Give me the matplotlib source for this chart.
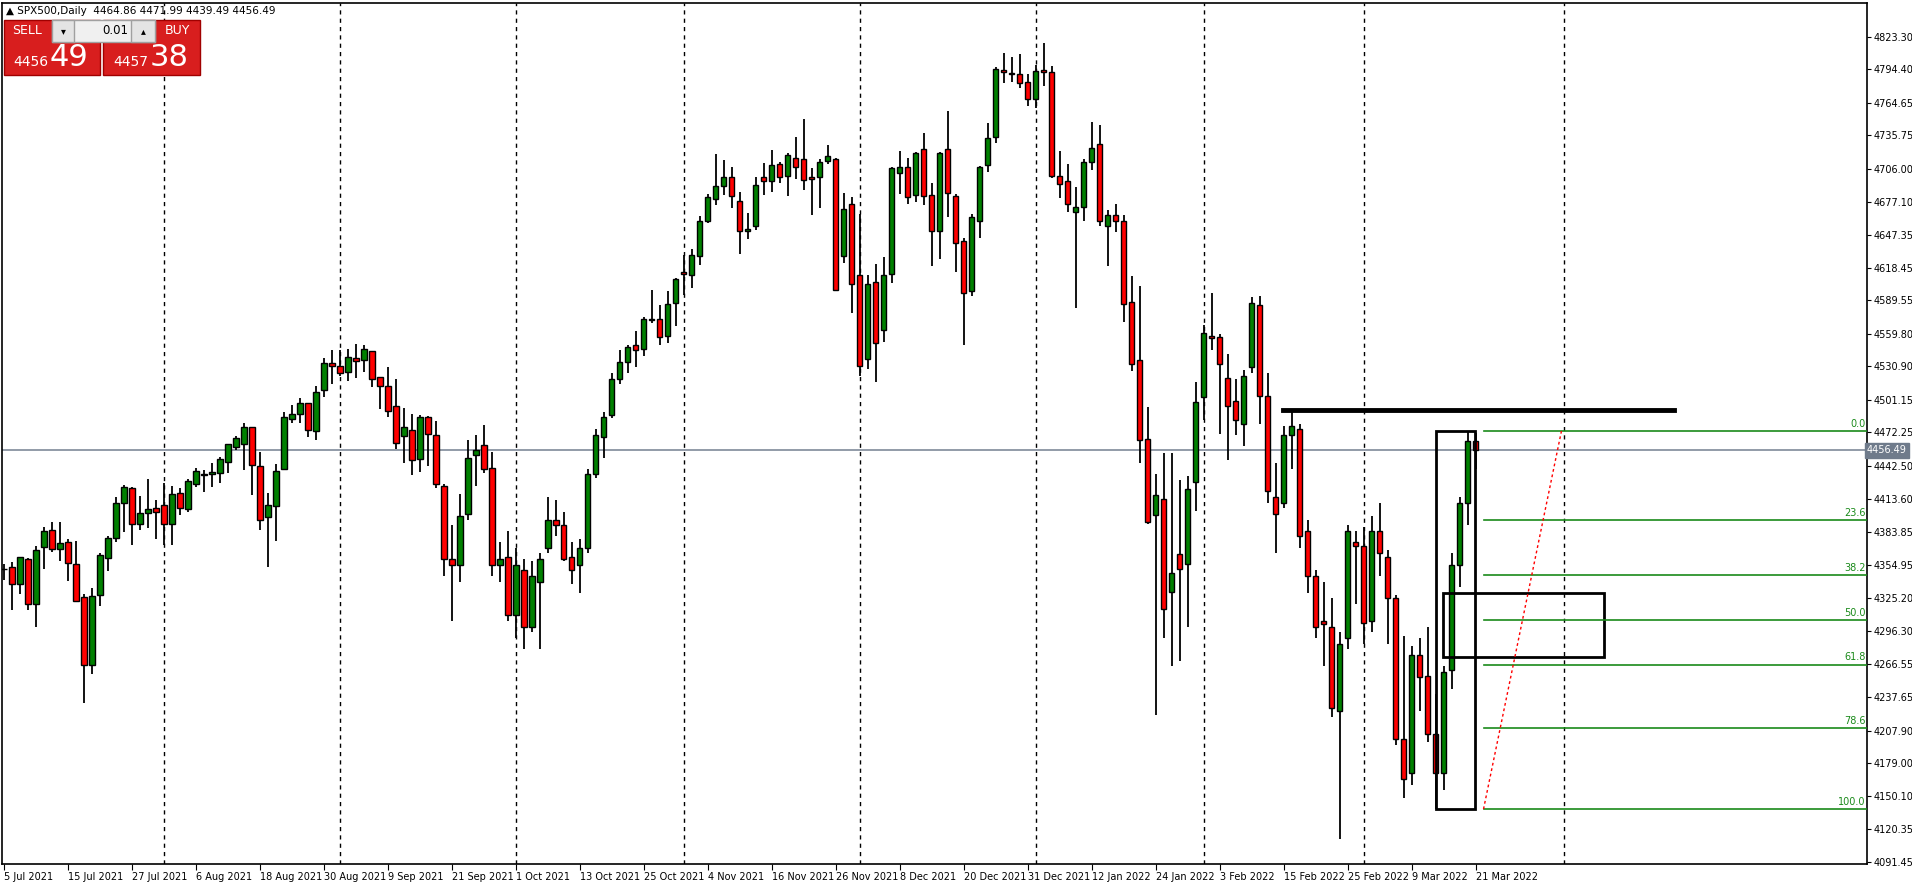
import matplotlib
matplotlib.use("Agg")
import matplotlib.pyplot as plt
from matplotlib.patches import Rectangle
import numpy as np

opens = [4351,4352.6,4337.5,4359.7,4319.7,4371,4385.4,4368.5,4374.7,4355.2,
 4326,4266,4327.7,4361,4379,4409.3,4422.6,4390.7,4400.5,4405,
 4407.6,4390.7,4419,4404,4427,4434.8,4435,4435.9,4445.7,4459,
 4461.7,4476.8,4442.2,4397,4406.8,4440.2,4484.5,4488.4,4498.1,4473.3,
 4509.7,4533.6,4531,4525.6,4538,4536.3,4544.2,4521.2,4513.2,4495.5,
 4468.8,4474.2,4448.4,4486,4469.7,4425,4360,4355,4400,4452,
 4461,4441,4355,4362,4310,4350,4300,4340,4370,4395,
 4390,4362,4355,4370,4435,4468,4488,4520,4535,4550,
 4546,4573,4573,4558,4587,4615,4612,4629,4660,4679,
 4691,4699,4678,4651,4655,4699,4695.5,4710.6,4699.7,4715.6,
 4715,4699,4699,4713,4715,4629,4675,4612.2,4537.4,4605.4,
 4562.8,4612.5,4702,4707.4,4683,4723.9,4682.5,4650.9,4723.9,4682,
 4642,4598,4660,4709.7,4734.6,4793.4,4791,4790,4783,4768,
 4794,4792,4700,4695,4668,4672,4712,4728,4655,4665,
 4660,4587.7,4536.3,4466.2,4398.8,4412.9,4330.5,4364.2,4355.3,4428,
 4503.4,4557.5,4556.7,4521,4500,4480,4530,4585,4505,4415,
 4410,4470,4475,4385,4345,4305,4300,4225,4290,4375,
 4372,4305,4385,4362,4325,4200,4170,4275,4256,4205,
 4170,4262,4355,4410,4464.86]
highs = [4356,4357,4362,4361,4372,4388.6,4392.8,4392.8,4378,4376,
 4329,4334,4365,4380,4415,4425.6,4423.5,4415.8,4430.6,4412,
 4427.7,4424.7,4422.6,4430.6,4440.7,4438.6,4444.8,4450.7,4462,4469,
 4481,4477,4454.7,4419,4444,4490.4,4496.6,4502.8,4498.1,4513.5,
 4538,4545.1,4545.1,4546,4550.5,4549.6,4544.2,4521.2,4530,4519.4,
 4494,4488.4,4487.5,4487,4482,4427,4390,4418,4466,4470,
 4479,4455,4375,4385,4370,4360,4358,4365,4415,4412,
 4402,4375,4378,4440,4475,4490,4525,4545,4550,4562,
 4575,4599,4585,4598,4609,4630,4635,4664,4684,4719,
 4714,4708,4686,4667,4699,4711.5,4722.5,4712,4720,4734,
 4750,4707,4714.5,4727.5,4716,4684.3,4681.3,4665.7,4611.6,4622,
 4628,4708,4721.6,4715.6,4721,4738.1,4693.5,4721,4757,4684,
 4645,4666,4709,4746.4,4796,4808.5,4805,4808,4790,4798,
 4818,4797,4722,4710,4690,4715,4748,4745,4670,4675,
 4665,4611,4602,4494.6,4435.4,4453.7,4453.7,4430,4434,4517,
 4568,4596,4560,4542,4520,4528,4592,4593,4525,4445,
 4478,4492,4480,4395,4350,4340,4325,4295,4390,4385,
 4388,4398,4410,4368,4328,4292,4283,4290,4300,4240,
 4265,4365,4415,4474,4471.99]
lows = [4341,4315,4329,4315,4300,4350.8,4365.9,4358.5,4340.7,4322,
 4232,4258,4318,4349.6,4375,4384,4372.7,4385.7,4387.8,4378,
 4372.7,4372.7,4399,4402,4423.5,4419.7,4423.5,4427.7,4435.9,4457,
 4438.6,4417,4385.8,4352.6,4376.3,4440,4481,4481,4468.5,4465.9,
 4504,4515.6,4522.4,4518.2,4520.9,4525.6,4512.3,4493.4,4486.3,4457.9,
 4445.5,4434.8,4437.5,4442.8,4422.7,4345,4305,4340,4395,4425,
 4436,4345,4340,4305,4290,4280,4295,4280,4365,4380,
 4358,4338,4330,4365,4432,4450,4485,4515,4525,4530,
 4540,4569,4550,4552,4567,4594,4600,4621,4658,4674,
 4683,4671,4631,4644,4652,4682.8,4686,4693.8,4682,4697,
 4687,4664.8,4671.3,4710,4597.4,4622.5,4577.9,4522.3,4528.2,4516.6,
 4552.7,4605,4683.4,4674.8,4676.3,4674,4620,4625.8,4663,4614.2,
 4550,4593.2,4645,4703,4729,4782.5,4783,4778,4762,4760,
 4780,4698,4680,4668,4583,4660,4705,4655,4620,4650,
 4570,4527,4445.5,4390.8,4222,4290,4265,4270,4300,4403,
 4483,4545,4471,4448,4470,4460,4525,4480,4410,4365,
 4405,4440,4370,4330,4290,4265,4220,4112,4280,4320,
 4285,4295,4345,4285,4195,4148,4160,4225,4198,4138,
 4155,4245,4335,4390,4439.49]
closes = [4351.5,4337.5,4361.4,4319.7,4367.6,4384.5,4368.5,4373.8,4356.1,4323,
 4266,4327,4364,4379,4409.3,4423.5,4390.7,4400.5,4404,4402,
 4390.7,4417.3,4404.9,4428.8,4437.7,4434.4,4436.8,4448.4,4461.7,4467,
 4476.8,4443,4394.3,4407.6,4437.8,4486,4488.4,4498.1,4474.2,4507.9,
 4533.6,4531,4524.7,4538.9,4535.4,4546,4519.4,4513.2,4491,4462.6,
 4476.8,4447.6,4486,4470.6,4426.3,4360,4355,4398,4450,4457,
 4440,4355,4360,4310,4355,4300,4345,4360,4395,4390,
 4360,4350,4370,4435,4470,4486,4520,4535,4548,4545,
 4573,4572,4557,4586,4608,4613,4630,4660,4681,4691,
 4699,4682,4651,4653,4692,4695.5,4709.7,4699,4718,4708,
 4696.4,4697.3,4712.4,4717.5,4598.8,4670.7,4603.6,4530.8,4603.9,4552,
 4612.2,4706.8,4708,4680.8,4719.8,4681.7,4650.9,4719.8,4684.6,4640,
 4596.2,4663.6,4707.7,4733.1,4794.3,4791.6,4790,4782,4768,4793,
 4792,4700,4693,4675,4672,4712,4725,4660,4665,4660,
 4586,4532.7,4465.3,4393.1,4416.5,4315.4,4347.3,4350.9,4421.8,4499,
 4560.2,4555.8,4532.7,4495.5,4483,4522,4587,4505,4420,4400,
 4470,4478,4380,4345,4300,4302,4228,4285,4385,4372,
 4303,4385,4365,4325,4200,4165,4275,4255,4205,4170,
 4260,4355,4410,4465,4456.49]

date_labels = ["5 Jul 2021","15 Jul 2021","27 Jul 2021","6 Aug 2021","18 Aug 2021","30 Aug 2021",
 "9 Sep 2021","21 Sep 2021","1 Oct 2021","13 Oct 2021","25 Oct 2021","4 Nov 2021","16 Nov 2021",
 "26 Nov 2021","8 Dec 2021","20 Dec 2021","31 Dec 2021","12 Jan 2022","24 Jan 2022","3 Feb 2022",
 "15 Feb 2022","25 Feb 2022","9 Mar 2022","21 Mar 2022"]
price_ticks = [4823.30,4794.40,4764.65,4735.75,4706.00,4677.10,4647.35,4618.45,4589.55,4559.80,
 4530.90,4501.15,4472.25,4442.50,4413.60,4383.85,4354.95,4325.20,4296.30,4266.55,
 4237.65,4207.90,4179.00,4150.10,4120.35,4091.45]
grid_bars = [20,42,64,85,107,129,150,170,195]
fib_levels = [0.0,23.6,38.2,50.0,61.8,78.6,100.0]
fib_high, fib_low = 4473.5, 4138.2
hline_price = 4492.2
last_price = 4456.49

W, H = 1912, 885
fig = plt.figure(figsize=(W/100, H/100), dpi=100)
ax = fig.add_axes([2/W, 1-864/H, (1867-2)/W, (864-3)/H])
ax.set_xlim(-0.25, 232.9)
ax.set_ylim(4089.5, 4853.2)
for s in ax.spines.values():
    s.set_color('black'); s.set_linewidth(1.2)

for g in grid_bars:
    ax.axvline(g, color='black', lw=1, ls=(0, (3, 3)), zorder=0)
ax.axhline(last_price, color='#7f8a99', lw=1.2, zorder=1)

n = len(closes)
for i in range(n):
    o, h, l, c = opens[i], highs[i], lows[i], closes[i]
    ax.plot([i, i], [l, h], color='black', lw=1.3, zorder=2, solid_capstyle='butt')
    col = '#008000' if c >= o else '#ff0000'
    bot = min(o, c); ht = max(abs(c - o), 0.6)
    ax.add_patch(Rectangle((i - 0.32, bot), 0.64, ht, facecolor=col, edgecolor='black', lw=1.0, zorder=3))

ax.plot([159.9, 208.8], [hline_price, hline_price], color='black', lw=3.5, zorder=4)
ax.add_patch(Rectangle((179.0, fib_low), 4.95, fib_high - fib_low, fill=False, edgecolor='black', lw=2, zorder=4))
ax.add_patch(Rectangle((179.9, 4273.4), 20.1, 4330.1 - 4273.4, fill=False, edgecolor='black', lw=2, zorder=4))
for f in fib_levels:
    p = fib_high - (fib_high - fib_low) * f / 100
    ax.plot([184.96, 232.9], [p, p], color='#1a8a1a', lw=1.2, zorder=4)
    ax.text(232.7, p + 2, f"{f:.1f}", color='#1a8a1a', fontsize=7, ha='right', va='bottom', zorder=5)
ax.plot([184.96, 194.7], [fib_low, fib_high], color='red', lw=1, ls=(0, (2, 2)), zorder=4)

ax.yaxis.tick_right()
ax.set_yticks(price_ticks)
ax.set_yticklabels([f"{p:.2f}" for p in price_ticks], fontsize=7)
ax.tick_params(axis='y', direction='out', length=3, pad=2)
ax.set_xticks([8 * i for i in range(len(date_labels))])
ax.set_xticklabels(date_labels, fontsize=7, ha='left')
ax.tick_params(axis='x', direction='out', length=4, pad=2)
ax.text(1.0, last_price, f"{last_price:.2f}", transform=ax.get_yaxis_transform(), fontsize=7,
        color='white', ha='left', va='center',
        bbox=dict(boxstyle='square,pad=0.25', facecolor='#6f7b8b', edgecolor='#6f7b8b'))

fig.text(6/W, 1 - 11/H, "\u25b2 SPX500,Daily  4464.86 4471.99 4439.49 4456.49", fontsize=7.5, va='center')

def box(x0, y0, w, h, fc, ec='#a00000'):
    fig.patches.append(Rectangle((x0/W, 1-(y0+h)/H), w/W, h/H, transform=fig.transFigure,
                                 facecolor=fc, edgecolor=ec, lw=1, zorder=10))
box(4, 20, 96, 55, '#d81e1e')
box(103, 20, 97, 55, '#d81e1e')
box(52, 20, 103, 22, '#f0f0f0', '#a0a0a0')
box(52, 20, 22, 22, '#e4e4e4', '#a0a0a0')
box(131, 20, 24, 22, '#e4e4e4', '#a0a0a0')
fig.text(27/W, 1-31/H, "SELL", color='white', fontsize=9, ha='center', va='center', zorder=11)
fig.text(177/W, 1-31/H, "BUY", color='white', fontsize=9, ha='center', va='center', zorder=11)
fig.text(128/W, 1-31/H, "0.01", color='black', fontsize=8.5, ha='right', va='center', zorder=11)
fig.text(63/W, 1-31/H, "\u25be", color='black', fontsize=7, ha='center', va='center', zorder=11)
fig.text(143/W, 1-31/H, "\u25b4", color='black', fontsize=7, ha='center', va='center', zorder=11)
fig.text(48/W, 1-62/H, "4456", color='white', fontsize=10, ha='right', va='center', zorder=11)
fig.text(50/W, 1-58/H, "49", color='white', fontsize=22, ha='left', va='center', zorder=11)
fig.text(148/W, 1-62/H, "4457", color='white', fontsize=10, ha='right', va='center', zorder=11)
fig.text(150/W, 1-58/H, "38", color='white', fontsize=22, ha='left', va='center', zorder=11)

fig.savefig("out.png", dpi=100, facecolor='white')
